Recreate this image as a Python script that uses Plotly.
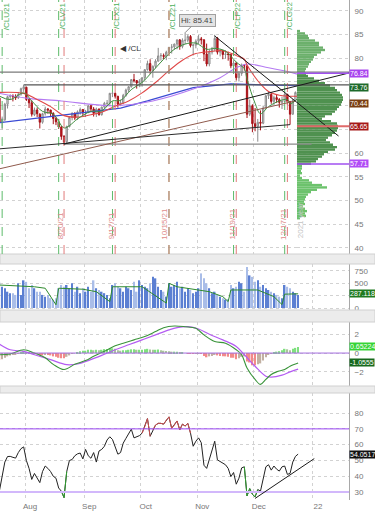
import plotly.graph_objects as go
from plotly.subplots import make_subplots

# ---------------- data ----------------
day_nums = {
    "2021-07": [19, 20, 21, 22, 23, 26, 27, 28, 29, 30],
    "2021-08": [2, 3, 4, 5, 6, 9, 10, 11, 12, 13, 16, 17, 18, 19, 20, 23, 24, 25, 26, 27, 30, 31],
    "2021-09": [1, 2, 3, 7, 8, 9, 10, 13, 14, 15, 16, 17, 20, 21, 22, 23, 24, 27, 28, 29, 30],
    "2021-10": [1, 4, 5, 6, 7, 8, 11, 12, 13, 14, 15, 18, 19, 20, 21, 22, 25, 26, 27, 28, 29],
    "2021-11": [1, 2, 3, 4, 5, 8, 9, 10, 11, 12, 15, 16, 17, 18, 19, 22, 23, 24, 26, 29, 30],
    "2021-12": [1, 2, 3, 6, 7, 8, 9, 10, 13, 14, 15, 16, 17, 20, 21, 22, 23],
}

opens = [71.6, 66.4, 67.0, 70.3, 71.9, 72.0, 71.9, 71.7, 72.4, 73.5,
         73.9, 71.3, 70.6, 68.1, 69.1, 68.2, 66.5, 68.3, 69.3, 69.1, 68.4, 67.3, 66.6, 65.5, 63.5, 62.4, 65.6, 67.5, 68.4, 67.4, 68.7, 69.2,
         68.5, 68.6, 70.0, 69.3, 68.4, 69.3, 68.1, 69.7, 70.5, 70.5, 72.6, 72.6, 72.0, 70.3, 70.6, 72.2, 73.3, 74.0, 75.5, 75.3, 74.8,
         75.0, 75.9, 77.6, 78.9, 77.4, 78.3, 79.4, 80.5, 80.6, 80.4, 81.3, 82.3, 82.4, 83.0, 83.9, 82.5, 83.8, 83.8, 84.6, 82.7, 82.8,
         83.6, 84.1, 83.9, 80.9, 78.8, 81.3, 81.9, 84.2, 81.3, 81.6, 80.8, 80.9, 80.8, 78.4, 79.0, 75.9, 76.8, 78.5, 78.4, 68.2, 70.0,
         66.2, 65.6, 66.5, 66.3, 69.5, 72.1, 72.4, 70.9, 71.7, 71.3, 70.7, 70.9, 72.4, 70.9, 68.2, 71.1, 72.8]
highs = [71.9, 67.7, 70.6, 72.1, 72.4, 72.4, 72.4, 72.9, 73.8, 74.4,
         74.0, 71.5, 71.1, 69.6, 69.6, 68.4, 68.5, 69.8, 69.5, 69.1, 68.6, 67.6, 67.2, 65.7, 63.8, 65.8, 67.7, 68.6, 68.6, 69.0, 69.6, 69.3,
         69.1, 70.2, 70.1, 69.7, 69.6, 69.4, 69.8, 70.8, 71.2, 72.7, 72.9, 72.8, 72.0, 71.3, 72.5, 73.6, 74.1, 75.6, 76.7, 75.4, 75.6,
         76.0, 77.7, 79.5, 79.8, 78.5, 79.8, 82.2, 81.1, 81.0, 81.6, 82.4, 83.0, 83.1, 83.9, 84.0, 84.2, 85.41, 85.0, 84.9, 83.1, 84.0,
         84.9, 84.5, 84.0, 83.1, 81.8, 82.4, 84.97, 84.5, 82.0, 81.8, 81.7, 81.4, 80.8, 79.6, 79.2, 77.3, 78.9, 78.8, 78.4, 71.3, 70.3,
         69.5, 67.2, 69.0, 70.0, 72.3, 72.9, 72.8, 72.1, 72.4, 71.6, 71.9, 72.9, 72.5, 70.9, 71.4, 73.0, 73.9]
lows = [65.0, 65.0, 66.8, 69.4, 71.2, 70.9, 71.2, 71.4, 72.1, 72.9,
        71.0, 69.5, 67.7, 67.8, 67.6, 65.2, 66.2, 67.9, 68.3, 67.6, 66.1, 65.9, 65.1, 62.8, 61.7, 62.1, 65.4, 66.9, 67.0, 67.0, 68.1, 67.9,
        67.6, 68.4, 68.8, 67.7, 67.6, 67.9, 67.9, 69.3, 70.0, 69.9, 71.8, 71.5, 69.6, 69.9, 70.3, 71.9, 72.8, 73.8, 74.9, 73.6, 73.9,
        74.0, 75.3, 77.4, 76.7, 75.9, 77.9, 79.3, 79.5, 79.8, 79.6, 81.1, 81.0, 81.8, 81.9, 81.8, 82.1, 83.0, 83.4, 82.3, 80.6, 82.1,
        83.0, 82.9, 79.4, 78.3, 78.3, 80.8, 81.5, 80.8, 80.4, 79.8, 79.9, 79.5, 77.9, 76.8, 75.3, 75.1, 76.3, 77.4, 67.4, 67.8, 64.4,
        64.6, 62.4, 64.8, 66.1, 69.3, 71.4, 70.4, 70.0, 70.6, 69.6, 69.3, 70.7, 70.2, 66.0, 68.1, 71.0, 72.4]
closes = [66.4, 67.2, 70.3, 71.9, 72.1, 71.9, 71.7, 72.4, 73.6, 74.0,
          71.3, 70.6, 68.2, 69.1, 68.3, 66.5, 68.3, 69.3, 69.1, 68.4, 67.3, 66.6, 65.5, 63.5, 62.3, 65.6, 67.5, 68.4, 67.4, 68.7, 69.2, 68.5,
          68.6, 70.0, 69.3, 68.4, 69.3, 68.1, 69.7, 70.5, 70.5, 72.6, 72.6, 72.0, 70.3, 70.6, 72.2, 73.3, 74.0, 75.5, 75.3, 74.8, 75.0,
          75.9, 77.6, 78.9, 77.4, 78.3, 79.4, 80.5, 80.6, 80.4, 81.3, 82.3, 82.4, 83.0, 83.9, 82.5, 83.8, 83.8, 84.6, 82.7, 82.8, 83.6,
          84.1, 83.9, 80.9, 78.8, 81.3, 81.9, 84.2, 81.3, 81.6, 80.8, 80.9, 80.8, 78.4, 79.0, 75.9, 76.8, 78.5, 78.4, 68.2, 70.0, 66.2,
          65.6, 66.5, 66.3, 69.5, 72.1, 72.4, 70.9, 71.7, 71.3, 70.7, 70.9, 72.4, 70.9, 68.2, 71.1, 72.8, 73.8]

volume = [530, 430, 400, 330, 300, 300, 265, 500, 265, 560,
          530, 400, 465, 400, 330, 330, 265, 230, 265, 200, 170, 200, 400, 465, 430, 465, 400, 500, 330, 430, 300, 400,
          330, 430, 330, 560, 400, 365, 330, 300, 265, 200, 465, 500, 430, 400, 330, 430, 400, 365, 530, 330, 560,
          465, 430, 400, 500, 630, 600, 430, 365, 330, 230, 500, 430, 465, 530, 400, 430, 330, 400, 365, 300, 330,
          400, 700, 600, 500, 400, 300, 330, 265, 230, 200, 170, 180, 465, 400, 430, 530, 500, 330, 830, 660, 630,
          530, 560, 430, 465, 400, 365, 330, 300, 265, 230, 200, 465, 430, 400, 330, 300, 265]

macd_hist = [-0.75, -0.65, -0.5, -0.35, -0.25, -0.2, -0.15, -0.05, 0.08, 0.17,
             0.1, 0.05, 0.05, -0.02, -0.1, -0.25, -0.25, -0.2, -0.2, -0.25, -0.35, -0.4, -0.5, -0.55, -0.55, -0.4, -0.25, -0.1, 0.0, 0.1, 0.2, 0.25,
             0.25, 0.35, 0.35, 0.3, 0.35, 0.3, 0.35, 0.42, 0.42, 0.5, 0.5, 0.45, 0.3, 0.25, 0.3, 0.3, 0.35, 0.4, 0.4, 0.35, 0.35,
             0.35, 0.4, 0.45, 0.38, 0.35, 0.35, 0.38, 0.3, 0.25, 0.22, 0.2, 0.15, 0.15, 0.15, 0.05, 0.05, 0.0, -0.03, -0.1, -0.1, -0.08,
             -0.05, -0.1, -0.3, -0.45, -0.35, -0.3, -0.15, -0.25, -0.3, -0.35, -0.35, -0.4, -0.5, -0.5, -0.65, -0.55, -0.4, -0.35, -0.9, -1.0, -1.3,
             -1.3, -1.2, -1.1, -0.8, -0.45, -0.2, -0.05, 0.1, 0.15, 0.2, 0.3, 0.45, 0.4, 0.3, 0.45, 0.55, 0.65224]

rsi = [31, 40, 49, 52.5, 52.6, 52, 51.5, 55, 57.5, 58.6,
       50, 45, 38, 41.8, 38.8, 36, 43, 46.5, 45, 43, 40, 38.8, 32.6, 30.6, 26.5, 43, 50, 50.6, 53, 54.2, 54.7, 51,
       57, 53, 51.4, 55, 49, 56, 57, 59, 63, 65, 63.3, 58, 54, 55, 61, 64, 66.7, 69.8, 64.3, 65, 65.7,
       67.3, 71.4, 76.5, 65.3, 69.4, 72.4, 73.5, 73.5, 73, 75.5, 77.6, 70.4, 72.4, 75, 69.4, 73, 71.8, 73.5, 67.3, 59, 62.2,
       64.3, 61.2, 47, 45, 51, 56, 62.2, 50.4, 49.4, 48.5, 47.3, 45, 39.8, 42.4, 35, 38.8, 45.3, 46, 27.6, 32.2, 28.6,
       27, 31.6, 30.6, 37.8, 46, 47.3, 43.9, 46.5, 44.5, 43.3, 46, 46.5, 41.2, 41.8, 49, 52.6, 54.0517]

# moving averages read as knots (date, value)
ma_fast_dates = ["2021-07-19", "2021-07-23", "2021-07-30", "2021-08-04", "2021-08-10", "2021-08-16", "2021-08-20",
                 "2021-08-24", "2021-08-27", "2021-09-03", "2021-09-10", "2021-09-16", "2021-09-21", "2021-09-27",
                 "2021-10-01", "2021-10-07", "2021-10-13", "2021-10-19", "2021-10-25", "2021-10-29", "2021-11-04",
                 "2021-11-09", "2021-11-15", "2021-11-19", "2021-11-24", "2021-11-26", "2021-12-01", "2021-12-03",
                 "2021-12-08", "2021-12-14", "2021-12-17", "2021-12-20", "2021-12-23"]
ma_fast_vals = [72.0, 71.3, 72.7, 71.0, 68.8, 68.2, 65.3, 65.8, 67.2, 68.8, 68.9, 71.0, 71.1, 73.4, 74.9, 77.3, 79.8,
                81.9, 83.0, 83.2, 81.9, 82.1, 81.5, 79.2, 77.8, 75.6, 70.5, 68.3, 69.8, 71.0, 71.3, 70.4, 71.6]
ma_slow_dates = ["2021-07-19", "2021-07-30", "2021-08-06", "2021-08-13", "2021-08-20", "2021-08-27", "2021-09-03",
                 "2021-09-10", "2021-09-17", "2021-09-24", "2021-10-01", "2021-10-08", "2021-10-15", "2021-10-22",
                 "2021-10-29", "2021-11-05", "2021-11-12", "2021-11-19", "2021-11-24", "2021-11-26", "2021-12-01",
                 "2021-12-03", "2021-12-08", "2021-12-14", "2021-12-17", "2021-12-23"]
ma_slow_vals = [72.8, 72.6, 71.3, 69.8, 67.9, 67.6, 68.1, 68.6, 69.9, 71.0, 72.7, 74.9, 77.4, 79.6, 81.0, 81.4, 81.6,
                80.6, 79.8, 78.6, 76.0, 74.6, 73.0, 72.2, 72.0, 72.0]
ma50_dates = ["2021-07-19", "2021-08-02", "2021-08-19", "2021-09-16", "2021-10-07", "2021-10-28", "2021-11-11",
              "2021-11-19", "2021-11-26", "2021-12-08", "2021-12-17", "2021-12-23"]
ma50_vals = [72.6, 71.6, 71.0, 70.0, 71.0, 73.5, 75.9, 78.0, 78.8, 78.0, 77.2, 76.6]
ma_long_dates = ["2021-07-19", "2021-08-06", "2021-08-31", "2021-09-21", "2021-10-05", "2021-10-28", "2021-11-17",
                 "2021-12-01", "2021-12-23"]
ma_long_vals = [66.4, 67.4, 68.5, 69.5, 71.0, 73.8, 74.6, 74.4, 74.2]

vol_ma_dates = ["2021-07-19", "2021-08-05", "2021-08-11", "2021-08-17", "2021-08-18", "2021-08-31", "2021-09-08",
                "2021-09-15", "2021-09-16", "2021-10-01", "2021-10-14", "2021-10-15", "2021-10-20", "2021-10-29",
                "2021-11-05", "2021-11-12", "2021-11-16", "2021-11-17", "2021-12-02", "2021-12-10", "2021-12-15",
                "2021-12-16", "2021-12-23"]
vol_ma_vals = [465, 430, 400, 66, 400, 380, 330, 130, 430, 430, 100, 500, 430, 380, 330, 230, 130, 365, 365, 230, 70,
               280, 287.118]

macd_dates = ["2021-07-19", "2021-07-23", "2021-07-30", "2021-08-05", "2021-08-11", "2021-08-16", "2021-08-20",
              "2021-08-26", "2021-09-01", "2021-09-07", "2021-09-13", "2021-09-17", "2021-09-22", "2021-09-28",
              "2021-10-04", "2021-10-08", "2021-10-13", "2021-10-19", "2021-10-25", "2021-10-29", "2021-11-03",
              "2021-11-09", "2021-11-15", "2021-11-19", "2021-11-23", "2021-11-26", "2021-12-01", "2021-12-03",
              "2021-12-07", "2021-12-09", "2021-12-13", "2021-12-16", "2021-12-20", "2021-12-23"]
macd_vals = [-0.18, -0.1, 0.35, 0.0, -0.5, -1.2, -1.75, -1.2, -0.8, -0.35, 0.18, 0.77, 1.05, 1.4, 1.75, 2.28, 2.7,
             2.88, 2.8, 2.63, 1.93, 1.23, 1.05, 0.35, -0.18, -1.58, -2.8, -3.33, -2.8, -2.28, -2.0, -1.75, -1.4, -1.0555]
signal_dates = ["2021-07-19", "2021-07-23", "2021-07-30", "2021-08-05", "2021-08-13", "2021-08-23", "2021-08-27",
                "2021-09-02", "2021-09-10", "2021-09-17", "2021-09-24", "2021-10-01", "2021-10-08", "2021-10-15",
                "2021-10-20", "2021-10-26", "2021-11-01", "2021-11-05", "2021-11-12", "2021-11-19", "2021-11-24",
                "2021-12-01", "2021-12-07", "2021-12-09", "2021-12-15", "2021-12-20", "2021-12-23"]
signal_vals = [0.95, 0.35, 0.18, -0.18, -0.7, -1.23, -1.16, -0.8, -0.25, 0.35, 0.88, 1.4, 1.93, 2.46, 2.7, 2.8, 2.56,
               2.0, 1.4, 0.7, -0.18, -1.4, -2.46, -2.56, -2.35, -2.0, -1.71]

# volume profile (2021 year) : bin centres and relative volume
prof_price = [85.75, 85.25, 84.75, 84.25, 83.75, 83.25, 82.75, 82.25, 81.75, 81.25,
              80.75, 80.25, 79.75, 79.25, 78.75, 78.25, 77.75, 77.25, 76.75, 76.25,
              75.75, 75.25, 74.75, 74.25, 73.75, 73.25, 72.75, 72.25, 71.75, 71.25,
              70.75, 70.25, 69.75, 69.25, 68.75, 68.25, 67.75, 67.25, 66.75, 66.25,
              65.75, 65.25, 64.75, 64.25, 63.75, 63.25, 62.75, 62.25, 61.75, 61.25,
              60.75, 60.25, 59.75, 59.25, 58.75, 58.25, 57.75, 57.25, 56.75, 56.25,
              55.75, 55.25, 54.75, 54.25, 53.75, 53.25, 52.75, 52.25, 51.75, 51.25,
              50.75, 50.25, 49.75, 49.25, 48.75, 48.25, 47.75, 47.25, 46.75, 46.25]
prof_vol = [3, 8, 11, 12, 18, 22, 22, 26, 28, 24,
            20, 17, 16, 14, 12, 11, 9, 8, 9, 11,
            17, 22, 28, 33, 38, 40, 43, 45, 46, 46,
            45, 44, 42, 40, 38, 35, 28, 25, 34, 40,
            41, 41, 40, 38, 35, 31, 29, 33, 36, 40,
            38, 31, 27, 25, 21, 19, 14, 5, 5, 4,
            5, 3, 5, 12, 15, 25, 30, 20, 14, 11,
            9, 8, 7, 8, 6, 8, 10, 8, 9, 3]
value_area_high = 76.84
value_area_low = 57.71
poc_price = 65.65
last_price = 73.76
other_level = 70.44
hi_price = 85.41
hi_date = "2021-10-25"

roll_dates = ["2021-07-20", "2021-08-18", "2021-09-16", "2021-10-15", "2021-11-18", "2021-12-16"]
roll_labels = ["/CLU21", "/CLV21", "/CLX21", "/CLZ21", "/CLF22", "/CLG22"]
opex_dates = ["2021-08-20", "2021-09-17", "2021-10-15", "2021-11-19", "2021-12-17"]
opex_labels = ["8/20/21", "9/17/21", "10/15/21", "11/19/21", "12/17/21"]

tick_vals = ["2021-08-02", "2021-09-01", "2021-10-01", "2021-11-01", "2021-12-01", "2022-01-03"]
tick_text = ["Aug", "Sep", "Oct", "Nov", "Dec", "22"]
price_ticks = [40, 45, 50, 55, 60, 65, 70, 75, 80, 85, 90]
price_tick_text = ["40", "45", "50", "55", "60", "", "", "", "80", "85", "90"]   # 65/70/75 sit under value boxes
vol_ticks = [0, 250, 500, 750]
vol_tick_text = ["0", "", "500", "750"]

X0 = "2021-07-19 16:48"
X1 = "2022-01-20 09:36"

# trendlines drawn on the chart: (date0, price0, date1, price1)
trend_black_up = ("2021-08-20 12:00", 61.9, X1, 76.9)
trend_black_flat = (X0, 60.9, "2021-12-20 12:00", 66.0)
trend_brown = (X0, 56.7, "2021-12-22 12:00", 71.0)
trend_down = ("2021-11-09 12:00", 84.7, "2022-01-14 12:00", 63.6)
level_gray_a = (X0, 77.1, X1, 77.1)
level_gray_b = ("2021-07-30 12:00", 74.4, X1, 74.4)
level_support = ("2021-08-20 12:00", 61.9, "2021-12-31 12:00", 61.9)
rsi_trend = ("2021-12-01 12:00", 26.0, "2022-01-03 12:00", 51.2)

# ---------------- build ----------------
dates = [f"{m}-{d:02d} 12:00" for m, ds in day_nums.items() for d in ds]
noon = lambda lst: [d + " 12:00" for d in lst]

fig = make_subplots(rows=4, cols=1, shared_xaxes=True, vertical_spacing=0.02)

# main panel
fig.add_trace(go.Scatter(x=noon(ma_long_dates), y=ma_long_vals, mode="lines",
                         line=dict(color="#3b4bd4", width=1.2), hoverinfo="skip"), row=1, col=1)
fig.add_trace(go.Scatter(x=noon(ma50_dates), y=ma50_vals, mode="lines", line_shape="spline",
                         line=dict(color="#b47af2", width=1.1), hoverinfo="skip"), row=1, col=1)
fig.add_trace(go.Scatter(x=noon(ma_slow_dates), y=ma_slow_vals, mode="lines", line_shape="spline",
                         line=dict(color="#e04848", width=1.1), hoverinfo="skip"), row=1, col=1)
fig.add_trace(go.Scatter(x=noon(ma_fast_dates), y=ma_fast_vals, mode="lines", line_shape="spline",
                         line=dict(color="#3f8f3f", width=1), hoverinfo="skip"), row=1, col=1)
fig.add_trace(go.Candlestick(x=dates, open=opens, high=highs, low=lows, close=closes,
                             increasing=dict(line=dict(color="#8c8c8c", width=1), fillcolor="#e4e4e4"),
                             decreasing=dict(line=dict(color="#a51016", width=1), fillcolor="#c8141c"),
                             whiskerwidth=0, hoverinfo="skip"), row=1, col=1)

prof_colors = []
for p in prof_price:
    if p > value_area_high:
        prof_colors.append("#6cb06c")
    elif p >= value_area_low:
        prof_colors.append("#4f914f")
    else:
        prof_colors.append("#6cc26c")
fig.add_trace(go.Bar(x=prof_vol, y=prof_price, orientation="h", xaxis="x5", yaxis="y", width=0.5,
                     marker=dict(color=prof_colors, line=dict(width=0)), hoverinfo="skip"))

# volume panel
vol_colors = ["#5b7fd2" if c >= o else "#a9bde8" for o, c in zip(opens, closes)]
fig.add_trace(go.Bar(x=dates, y=volume, marker=dict(color=vol_colors, line=dict(width=0)),
                     hoverinfo="skip"), row=2, col=1)
fig.add_trace(go.Scatter(x=noon(vol_ma_dates), y=vol_ma_vals, mode="lines",
                         line=dict(color="#2e8b2e", width=1), hoverinfo="skip"), row=2, col=1)

# MACD panel
hist_colors = []
prev = macd_hist[0]
for h in macd_hist:
    if h >= 0:
        hist_colors.append("#80e080" if h >= prev else "#a9c49c")
    else:
        hist_colors.append("#f28a8a" if h <= prev else "#c2b0a2")
    prev = h
fig.add_trace(go.Bar(x=dates, y=macd_hist, marker=dict(color=hist_colors, line=dict(width=0)),
                     hoverinfo="skip"), row=3, col=1)
fig.add_trace(go.Scatter(x=noon(signal_dates), y=signal_vals, mode="lines", line_shape="spline",
                         line=dict(color="#b45cf2", width=1.2), hoverinfo="skip"), row=3, col=1)
fig.add_trace(go.Scatter(x=noon(macd_dates), y=macd_vals, mode="lines", line_shape="spline",
                         line=dict(color="#3a943a", width=1.1), hoverinfo="skip"), row=3, col=1)

# RSI panel
def zone_segments(xs, ys, test):
    sx, sy = [], []
    for k in range(len(ys) - 1):
        if test(ys[k]) or test(ys[k + 1]):
            sx += [xs[k], xs[k + 1], None]
            sy += [ys[k], ys[k + 1], None]
    return sx, sy

fig.add_trace(go.Scatter(x=dates, y=rsi, mode="lines", line=dict(color="#222222", width=1),
                         hoverinfo="skip"), row=4, col=1)
rx, ry = zone_segments(dates, rsi, lambda v: v > 70)
fig.add_trace(go.Scatter(x=rx, y=ry, mode="lines", line=dict(color="#d05050", width=1),
                         hoverinfo="skip"), row=4, col=1)
gx, gy = zone_segments(dates, rsi, lambda v: v < 30)
fig.add_trace(go.Scatter(x=gx, y=gy, mode="lines", line=dict(color="#2fa02f", width=1),
                         hoverinfo="skip"), row=4, col=1)

# ---------------- layout ----------------
PLOT_W = 349.0
PLOT_H = 500.0
dom_main = [1 - 254 / PLOT_H, 1.0]
dom_vol = [1 - 310 / PLOT_H, 1 - 264 / PLOT_H]
dom_macd = [1 - 386 / PLOT_H, 1 - 322 / PLOT_H]
dom_rsi = [0.0, 1 - 393 / PLOT_H]

rb = [dict(bounds=["sat", "mon"]), dict(values=["2021-09-06", "2021-11-25", "2021-12-24"])]
tickfont = dict(size=8, color="#777777", family="Liberation Sans")
for r in range(1, 5):
    fig.update_xaxes(range=[X0, X1], rangebreaks=rb, tickvals=tick_vals, ticktext=tick_text,
                     showgrid=True, gridcolor="#d2d2d2", griddash="dot", gridwidth=1,
                     zeroline=False, showline=False, ticks="", showticklabels=(r == 4),
                     rangeslider_visible=False, row=r, col=1)
fig.update_xaxes(tickfont=tickfont, ticklabelshift=5, row=4, col=1)

yc = dict(side="right", showgrid=True, gridcolor="#d2d2d2", griddash="dot", gridwidth=1,
          zeroline=False, showline=True, linecolor="#a8a8a8", linewidth=1, ticks="",
          tickfont=tickfont, ticklabelstandoff=3, fixedrange=True)
fig.update_yaxes(**yc)
fig.update_layout(
    yaxis=dict(domain=dom_main, range=[38.7, 92.3], tickvals=price_ticks, ticktext=price_tick_text),
    yaxis2=dict(domain=dom_vol, range=[-40, 890], tickvals=vol_ticks, ticktext=vol_tick_text),
    yaxis3=dict(domain=dom_macd, range=[-3.5, 3.3], tickvals=[-2, 0, 2]),
    yaxis4=dict(domain=dom_rsi, range=[25, 92.7], tickvals=[30, 40, 50, 60, 70, 80]),
    xaxis5=dict(domain=[297 / PLOT_W, 1.0], range=[0, 52], anchor="y", visible=False, fixedrange=True),
    width=375, height=512, margin=dict(l=0, r=26, t=0, b=12, autoexpand=False),
    paper_bgcolor="white", plot_bgcolor="white", showlegend=False, bargap=0.45,
    font=dict(family="Liberation Sans", size=8, color="#555555"),
)

shapes = []
# panel separators
for y0p, y1p in [(264, 254), (322, 310), (393, 386)]:
    shapes.append(dict(type="rect", xref="paper", yref="paper", x0=0, x1=375 / PLOT_W,
                       y0=1 - y0p / PLOT_H, y1=1 - y1p / PLOT_H, fillcolor="#ececec",
                       line=dict(color="#d0d0d0", width=1), layer="above"))
# value area shading
va_bands = [(76.84, 72.0, "#ece0f9"), (72.0, 67.0, "#e3d0f7"), (67.0, 62.0, "#d9c0f5"), (62.0, 57.71, "#cfb0f3")]
for top, bot, col in va_bands:
    shapes.append(dict(type="rect", xref="paper", yref="y", x0=297 / PLOT_W, x1=1.0, y0=bot, y1=top,
                       fillcolor=col, line=dict(width=0), layer="below"))
# roll / expiration dashed lines
for d in roll_dates:
    shapes.append(dict(type="line", xref="x", yref="y domain", x0=d + " 12:00", x1=d + " 12:00", y0=0, y1=1,
                       line=dict(color="#5dbb6a", width=1, dash="dash")))
for d in opex_dates:
    shapes.append(dict(type="line", xref="x", yref="y domain", x0=d + " 12:00", x1=d + " 12:00", y0=0, y1=1,
                       line=dict(color="#e27a7a", width=1, dash="dash")))
# levels and trendlines
def seg(t, color, width):
    return dict(type="line", xref="x", yref="y", x0=t[0], y0=t[1], x1=t[2], y1=t[3],
                line=dict(color=color, width=width))
shapes += [seg(level_gray_a, "#7a7a7a", 1.2), seg(level_gray_b, "#555555", 1.2),
           seg(level_support, "#8a8a8a", 1.2), seg(trend_brown, "#8f5a4c", 1),
           seg(trend_black_flat, "#2a2a2a", 1), seg(trend_black_up, "#1a1a1a", 1),
           seg(trend_down, "#1a1a1a", 1)]
# profile level lines
shapes.append(dict(type="line", xref="paper", yref="y", x0=297 / PLOT_W, x1=1.0, y0=value_area_high,
                   y1=value_area_high, line=dict(color="#a050f0", width=1.5)))
shapes.append(dict(type="line", xref="paper", yref="y", x0=297 / PLOT_W, x1=1.0, y0=value_area_low,
                   y1=value_area_low, line=dict(color="#a050f0", width=1.5)))
shapes.append(dict(type="line", xref="paper", yref="y", x0=297 / PLOT_W, x1=1.0, y0=poc_price,
                   y1=poc_price, line=dict(color="#e06a6a", width=2)))
# macd zero, rsi levels
shapes.append(dict(type="line", xref="x3 domain", yref="y3", x0=0, x1=1, y0=0, y1=0,
                   line=dict(color="#a46ee0", width=1)))
shapes.append(dict(type="line", xref="x4 domain", yref="y4", x0=0, x1=1, y0=70, y1=70,
                   line=dict(color="#9b45f5", width=1)))
shapes.append(dict(type="line", xref="x4 domain", yref="y4", x0=0, x1=1, y0=30, y1=30,
                   line=dict(color="#d2b8fb", width=2)))
shapes.append(dict(type="line", xref="x4", yref="y4", x0=rsi_trend[0], y0=rsi_trend[1],
                   x1=rsi_trend[2], y1=rsi_trend[3], line=dict(color="#1a1a1a", width=1)))
fig.update_layout(shapes=shapes)

ann = []
def box(text, y, yref, bg, fg="white"):
    return dict(text=text, x=1.0, xref="paper", xanchor="left", y=y, yref=yref, yanchor="middle",
                showarrow=False, bgcolor=bg, borderpad=0, xshift=0,
                font=dict(color=fg, size=7, family="Liberation Sans"))
ann += [box("76.84", value_area_high, "y", "#a744ee"), box("73.76", last_price, "y", "#1d6a2b"),
        box("70.44", other_level, "y", "#7a3e12"), box("65.65", poc_price, "y", "#a61818"),
        box("57.71", value_area_low, "y", "#b04cf6"),
        box("287.118", vol_ma_vals[-1], "y2", "#1f7a1f"),
        box("0.65224", macd_hist[-1], "y3", "#36d436"), box("-1.0555", macd_vals[-1], "y3", "#17691c"),
        box("54.0517", rsi[-1], "y4", "#111111")]
ann.append(dict(text="Hi: 85.41", x=hi_date + " 12:00", xref="x", y=hi_price, yref="y", showarrow=True,
                arrowhead=0, arrowwidth=1, arrowcolor="#888888", ax=12, ay=-12, standoff=0,
                bgcolor="#e4e4e4", bordercolor="#a0a0a0", borderwidth=1, borderpad=1,
                font=dict(size=8, color="#444444"), xanchor="center"))
ann.append(dict(text="◀ /CL", x=118 / PLOT_W, xref="paper", xanchor="left", y=82.0, yref="y",
                showarrow=False, font=dict(size=8, color="#333333")))
for d, t in zip(roll_dates, roll_labels):
    ann.append(dict(text=t, x=d + " 12:00", xref="x", xshift=4, y=1.0, yref="y domain", yanchor="top",
                    textangle=-90, showarrow=False, font=dict(size=8, color="#4caf5c")))
for d, t in zip(opex_dates, opex_labels):
    ann.append(dict(text=t, x=d + " 12:00", xref="x", xshift=-4, y=41.3, yref="y", yanchor="bottom",
                    textangle=-90, showarrow=False, font=dict(size=8, color="#e08c8c")))
ann.append(dict(text="2021 year", x=307 / PLOT_W, xref="paper", y=41.5, yref="y", yanchor="bottom",
                textangle=-90, showarrow=False, font=dict(size=8, color="#c4c4c4")))
fig.update_layout(annotations=ann)

fig.write_html("out.html", config={"displayModeBar": False},
               post_script="document.body.style.margin='0';document.body.style.overflow='hidden';")
